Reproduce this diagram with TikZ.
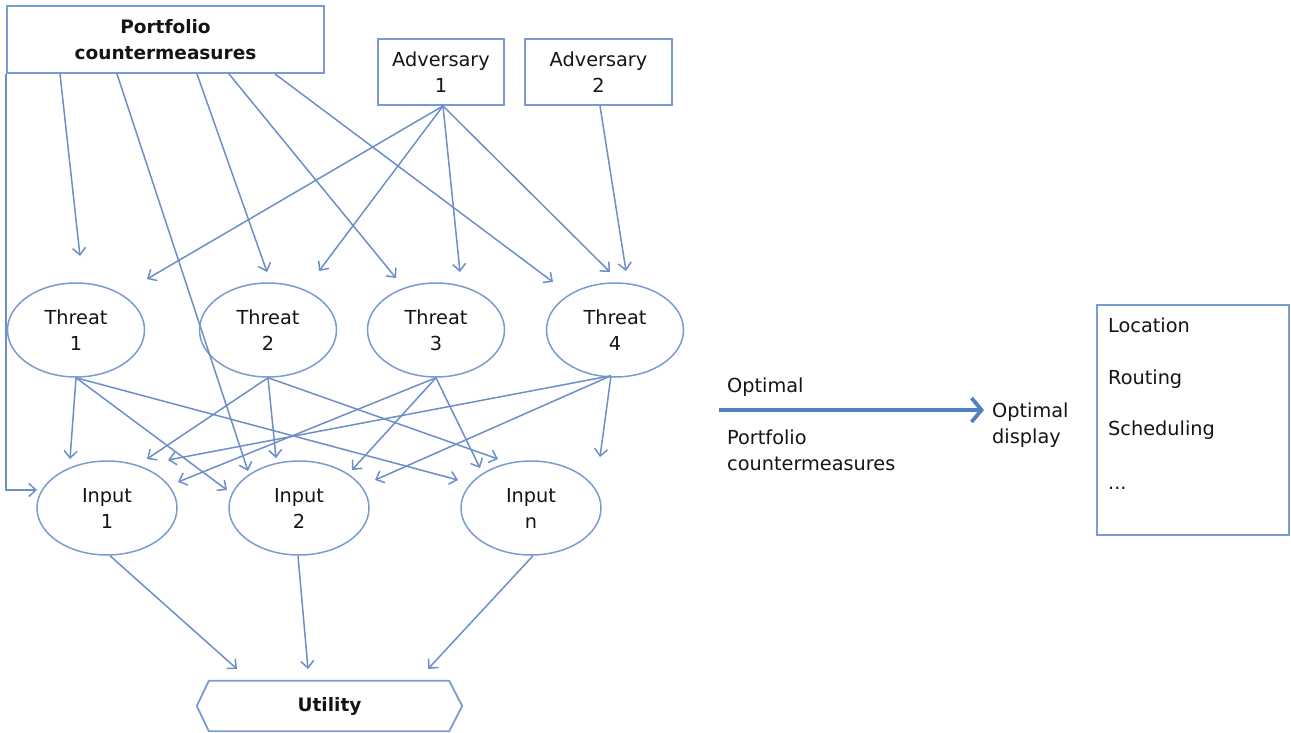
\documentclass[tikz,border=0pt]{standalone}
\usepackage{fontspec}
\setmainfont{DejaVu Sans}
\usetikzlibrary{shapes.geometric,arrows.meta,calc}
\definecolor{edgeblue}{RGB}{108,143,200}
\definecolor{boxblue}{RGB}{120,156,208}
\definecolor{arrowblue}{RGB}{79,129,189}
\definecolor{ink}{RGB}{20,20,20}
\begin{document}
\begin{tikzpicture}[x=1pt,y=-1pt,
  txt/.style={font=\fontsize{19.3}{26}\selectfont, text=ink, inner sep=0pt, align=center},
  bold/.style={font=\fontsize{18.5}{26}\selectfont\bfseries},
  box/.style={txt, draw=boxblue, line width=1.9pt, rectangle},
  oval/.style={txt, draw=boxblue, line width=1.5pt, ellipse,
    minimum width=137pt, minimum height=94pt},
  link/.style={draw=edgeblue, line width=1.5pt,
    -{Straight Barb[length=7pt,width=13pt]}},
  bigarrow/.style={draw=arrowblue, line width=3.8pt,
    -{Straight Barb[length=10pt,width=24pt]}}
]
\useasboundingbox (0,0) rectangle (1291,733);

% ---- top row ----
\node[box, bold, minimum width=317pt, minimum height=67pt]
  (pc) at (165.5,39.5) {Portfolio\\countermeasures};
\node[box, minimum width=126pt, minimum height=66pt] (a1) at (441,72) {Adversary\\1};
\node[box, minimum width=147pt, minimum height=66pt] (a2) at (598.5,72) {Adversary\\2};

% ---- threats ----
\node[oval] (t1) at (76,330)  {Threat\\1};
\node[oval] (t2) at (268,330) {Threat\\2};
\node[oval] (t3) at (436,330) {Threat\\3};
\node[oval] (t4) at (615,330) {Threat\\4};

% ---- inputs ----
\node[oval, minimum width=140pt] (i1) at (107,508) {Input\\1};
\node[oval, minimum width=140pt] (i2) at (299,508) {Input\\2};
\node[oval, minimum width=140pt] (in) at (531,508) {Input\\n};

% ---- utility (hexagon) ----
\node[txt, bold, minimum width=265pt, minimum height=50pt]
  (ut) at (329.5,706) {Utility};
\draw[boxblue, line width=1.8pt, line join=round]
  (ut.west) -- ($(ut.north west)+(12,0)$) -- ($(ut.north east)+(-13,0)$) -- (ut.east)
  -- ($(ut.south east)+(-13,0)$) -- ($(ut.south west)+(12,0)$) -- cycle;

% ---- countermeasures to threats and inputs ----
\draw[link] ($(pc.south)+(-105.5,0)$) -- ($(t1)+(4,-74)$);
\draw[link] ($(pc.south)+(-48.5,0)$)  -- ($(i2)+(-51,-37)$);
\draw[link] ($(pc.south)+(31.5,0)$)   -- ($(t2)+(-1,-58)$);
\draw[link] ($(pc.south)+(63.5,0)$)   -- ($(t3)+(-40,-52)$);
\draw[link] ($(pc.south)+(109.5,0)$)  -- ($(t4)+(-62,-48)$);
\draw[link] (pc.south west) |- ($(i1)+(-70,-18)$);

% ---- adversaries to threats ----
\draw[link] ($(a1.south)+(2,0)$) -- ($(t1)+(71,-51)$);
\draw[link] ($(a1.south)+(2,0)$) -- ($(t2)+(51,-59)$);
\draw[link] ($(a1.south)+(2,0)$) -- ($(t3)+(24,-58)$);
\draw[link] ($(a1.south)+(2,0)$) -- ($(t4)+(-5,-58)$);
\draw[link] ($(a2.south)+(1.5,0)$) -- ($(t4)+(11,-59)$);

% ---- threats to inputs ----
\draw[link] (t1.south) -- ($(i1)+(-37,-49)$);
\draw[link] (t1.south) -- ($(i2)+(-72,-18)$);
\draw[link] (t1.south) -- ($(in)+(-73,-28)$);
\draw[link] (t2.south) -- ($(i1)+(40,-49)$);
\draw[link] (t2.south) -- ($(i2)+(-23,-50)$);
\draw[link] (t2.south) -- ($(in)+(-33,-49)$);
\draw[link] (t3.south) -- ($(i1)+(71,-26)$);
\draw[link] (t3.south) -- ($(i2)+(53,-38)$);
\draw[link] (t3.south) -- ($(in)+(-51,-40)$);
\draw[link] ($(t4.south)+(-4,-2)$) -- ($(i1)+(61,-48)$);
\draw[link] ($(t4.south)+(-4,-2)$) -- ($(i2)+(76,-28)$);
\draw[link] ($(t4.south)+(-4,-2)$) -- ($(in)+(69,-51)$);

% ---- inputs to utility ----
\draw[link] ($(i1.south)+(3,0)$) -- ($(ut)+(-92.5,-37)$);
\draw[link] ($(i2.south)+(-1,0)$) -- ($(ut)+(-21.5,-37)$);
\draw[link] ($(in.south)+(2,0)$) -- ($(ut)+(98.5,-37)$);

% ---- optimal portfolio to display ----
\node[txt, anchor=base west] (ol) at (727,392) {Optimal};
\node[txt, anchor=west, align=left] (op) at (727,450) {Portfolio\\countermeasures};
\node[txt, anchor=west, align=left] (od) at (992,425) {Optimal\\display};
\coordinate (as) at (719,410);
\draw[bigarrow] (as) -- ($(as -| od.west)+(-8,0)$);

% ---- display options ----
\node[draw=boxblue, line width=1.9pt, minimum width=192pt, minimum height=230pt, inner sep=0pt]
  (rb) at (1193,420) {};
\node[txt, anchor=base west] (loc) at (1108,332) {Location};
\node[txt, anchor=base west] (rou) at (1108,384) {Routing};
\node[txt, anchor=base west] (sch) at (1108,435) {Scheduling};
\node[txt, anchor=base west] (dots) at (1108,489) {...};
\end{tikzpicture}
\end{document}
